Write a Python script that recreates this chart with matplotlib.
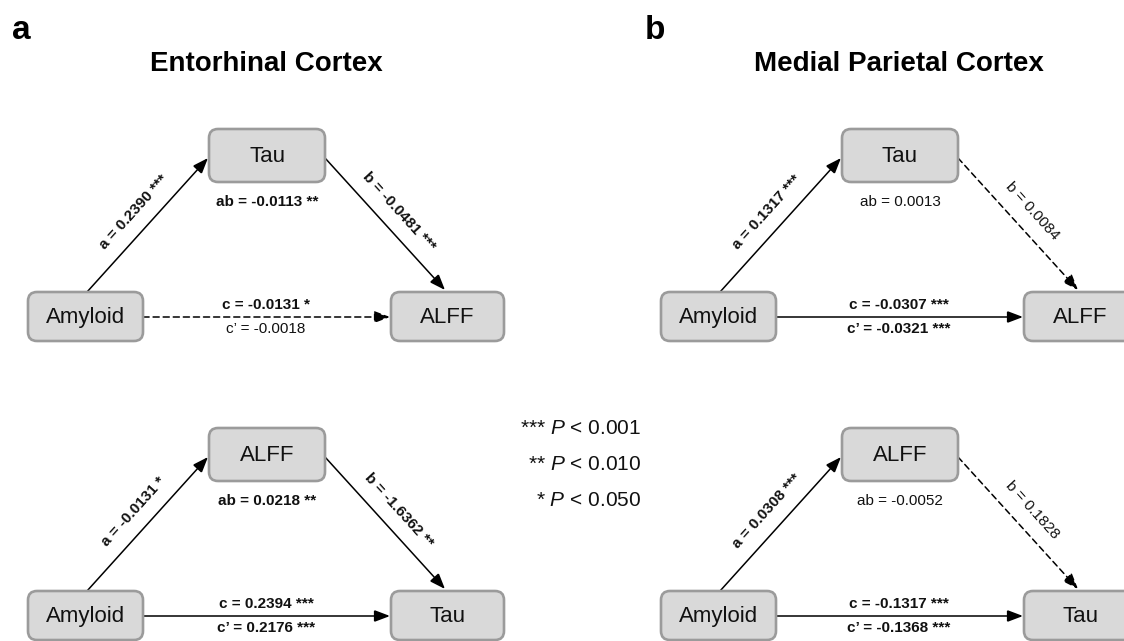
import numpy as np
import matplotlib
matplotlib.use("Agg")
import matplotlib.pyplot as plt
from matplotlib.patches import FancyBboxPatch, FancyArrowPatch

plt.rcParams["font.family"] = ["Liberation Sans", "DejaVu Sans"]
plt.rcParams["mathtext.fontset"] = "custom"
plt.rcParams["mathtext.rm"] = "Liberation Sans"
plt.rcParams["mathtext.it"] = "Liberation Sans:italic"

# mediation results, [region][model]; model 0 = tau mediator, model 1 = ALFF mediator
regions = ["Entorhinal Cortex", "Medial Parietal Cortex"]
panel_letters = ["a", "b"]
predictor = "Amyloid"
mediators = [["Tau", "ALFF"], ["Tau", "ALFF"]]
outcomes = [["ALFF", "Tau"], ["ALFF", "Tau"]]
a_est = [[0.2390, -0.0131], [0.1317, 0.0308]]
a_sig = [["***", "*"], ["***", "***"]]
b_est = [[-0.0481, -1.6362], [0.0084, 0.1828]]
b_sig = [["***", "**"], ["", ""]]
ab_est = [[-0.0113, 0.0218], [0.0013, -0.0052]]
ab_sig = [["**", "**"], ["", ""]]
c_est = [[-0.0131, 0.2394], [-0.0307, -0.1317]]
c_sig = [["*", "***"], ["***", "***"]]
cp_est = [[-0.0018, 0.2176], [-0.0321, -0.1368]]
cp_sig = [["", "***"], ["***", "***"]]
p_cutoffs = [0.001, 0.010, 0.050]
p_stars = ["***", "**", "*"]

BOX_FC = "#d9d9d9"
BOX_EC = "#9b9b9b"
TXT = "#111111"


def coef_label(name, est, stars):
    s = f"{name} = {est:.4f}"
    return s + " " + stars if stars else s


def box(ax, left, top, w, h, text):
    ax.add_patch(FancyBboxPatch((left, top), w, h,
                                boxstyle="round,pad=0,rounding_size=9",
                                fc=BOX_FC, ec=BOX_EC, lw=1.9, zorder=2))
    ax.text(left + w / 2, top + h / 2 + 1, text, ha="center", va="center",
            fontsize=16, color=TXT, zorder=3)


def arrow(ax, p0, p1, solid):
    ax.add_patch(FancyArrowPatch(p0, p1,
                                 arrowstyle="-|>,head_length=0.95,head_width=0.36",
                                 mutation_scale=10, shrinkA=0, shrinkB=0,
                                 lw=1.1, color="black",
                                 linestyle="-" if solid else (0, (4, 2.6)),
                                 joinstyle="miter", zorder=1))


def path_label(ax, p0, p1, text, bold, offset=19):
    dx, dy = p1[0] - p0[0], p1[1] - p0[1]
    L = np.hypot(dx, dy)
    nx, ny = dy / L, -dx / L
    mx, my = (p0[0] + p1[0]) / 2, (p0[1] + p1[1]) / 2
    ang = np.degrees(np.arctan2(-dy, dx))
    ax.text(mx + nx * offset, my + ny * offset, text, rotation=ang,
            rotation_mode="anchor", ha="center", va="center", fontsize=11,
            fontweight="bold" if bold else "normal", color=TXT)


def model(ax, ox, oy, r, m):
    box(ax, ox + 28, oy + 292, 115, 49, predictor)
    box(ax, ox + 209, oy + 129, 116, 53, mediators[r][m])
    box(ax, ox + 391, oy + 292, 113, 49, outcomes[r][m])

    pa0, pa1 = (ox + 87, oy + 292), (ox + 208, oy + 158)
    pb0, pb1 = (ox + 325, oy + 158), (ox + 445, oy + 290)
    pc0, pc1 = (ox + 143, oy + 317), (ox + 390, oy + 317)
    arrow(ax, pa0, pa1, bool(a_sig[r][m]))
    arrow(ax, pb0, pb1, bool(b_sig[r][m]))
    arrow(ax, pc0, pc1, bool(cp_sig[r][m]))

    path_label(ax, pa0, pa1, coef_label("a", a_est[r][m], a_sig[r][m]), bool(a_sig[r][m]))
    path_label(ax, pb0, pb1, coef_label("b", b_est[r][m], b_sig[r][m]), bool(b_sig[r][m]))
    ax.text(ox + 267, oy + 202, coef_label("ab", ab_est[r][m], ab_sig[r][m]),
            ha="center", va="center", fontsize=11, color=TXT,
            fontweight="bold" if ab_sig[r][m] else "normal")
    ax.text(ox + 266, oy + 305, coef_label("c", c_est[r][m], c_sig[r][m]),
            ha="center", va="center", fontsize=11, color=TXT,
            fontweight="bold" if c_sig[r][m] else "normal")
    ax.text(ox + 266, oy + 329, coef_label("c\u2019", cp_est[r][m], cp_sig[r][m]),
            ha="center", va="center", fontsize=11, color=TXT,
            fontweight="bold" if cp_sig[r][m] else "normal")


fig = plt.figure(figsize=(11.24, 6.41), dpi=100)
ax = fig.add_axes([0, 0, 1, 1])
ax.set_xlim(0, 1124)
ax.set_ylim(641, 0)
ax.axis("off")

col_x = [0, 633]
row_y = [0, 299]
for r in range(2):
    ax.text(col_x[r] + 12, 39, panel_letters[r], fontsize=24, fontweight="bold",
            ha="left", va="baseline", color="black")
    ax.text(col_x[r] + 266, 71, regions[r], fontsize=20, fontweight="bold",
            ha="center", va="baseline", color="black")
    for m in range(2):
        model(ax, col_x[r], row_y[m], r, m)

# significance key
for i, (cut, st) in enumerate(zip(p_cutoffs, p_stars)):
    ax.text(641, 428 + 36 * i, f"{st} $\\mathit{{P}}$ < {cut:.3f}", ha="right",
            va="center", fontsize=15, color=TXT)

fig.savefig("out.png", dpi=100)
